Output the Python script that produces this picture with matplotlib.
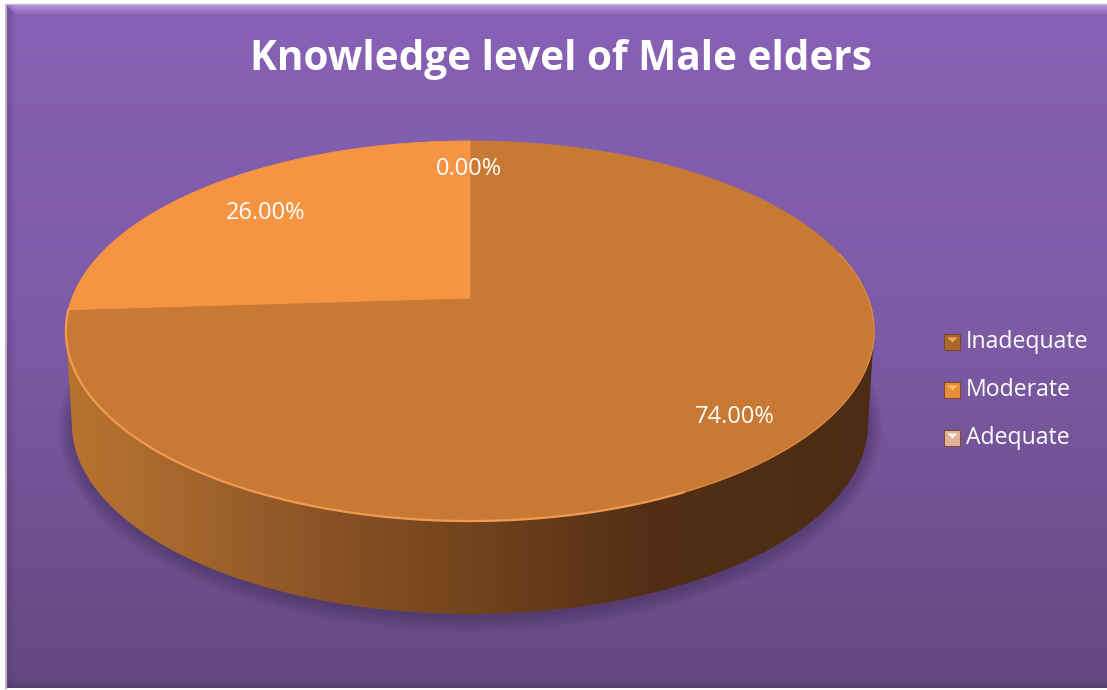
import matplotlib as mpl
mpl.use('Agg')
import matplotlib.pyplot as plt
import numpy as np
from matplotlib.colors import LinearSegmentedColormap
from matplotlib.patches import Polygon

categories = ['Inadequate', 'Moderate', 'Adequate']
values = [74.0, 26.0, 0.0]
value_labels = ['74.00%', '26.00%', '0.00%']
title = 'Knowledge level of Male elders'

plt.rcParams['font.family'] = ['Open Sans', 'DejaVu Sans']

fig = plt.figure(figsize=(11.07, 6.9), dpi=100)
ax = fig.add_axes([0, 0, 1, 1])
ax.set_xlim(0, 1107)
ax.set_ylim(690, 0)
ax.axis('off')

# background panel, pixel coordinates
L, T, R, B = 7, 5, 1107, 688
bg = LinearSegmentedColormap.from_list('bg', ['#8761b6', '#7c5aa4', '#65497f'])
ax.imshow(np.linspace(0, 1, 256).reshape(-1, 1), cmap=bg, extent=[L, R, B, T], aspect='auto', zorder=1)

# bevel on the panel edges
for i in range(10):
    a = 0.6 * (1 - i / 10)
    ax.fill([L + i, R, R, L + i], [T + i, T + i, T + i + 1, T + i + 1], color='#d9b4f7', alpha=a, lw=0, zorder=2)
for i in range(8):
    a = 0.35 * (1 - i / 8)
    ax.fill([L, R, R, L], [B - i - 1, B - i - 1, B - i, B - i], color='#3c2a58', alpha=a, lw=0, zorder=2)
    ax.fill([L + i, L + i + 1, L + i + 1, L + i], [T, T, B, B], color='#4a3570', alpha=a, lw=0, zorder=2)
ax.plot([L - 1, L - 1], [T, B], color='#b9b3c4', lw=1.5, zorder=2)
ax.plot([L, R], [T - 1, T - 1], color='#c9b6dc', lw=1, zorder=2)

# tilted disc: unit circle mapped through a perspective
x0, y0 = 470, 298
a, b, k = 398, 184.3, 0.1737


def rim(theta, drop=0.0, shrink=1.0):
    u = np.sin(theta)
    v = np.cos(theta)
    w = 1 + k * v
    return x0 + shrink * a * u / w, y0 - b * v / w + drop


# shadow under the pie
t = np.linspace(0, 2 * np.pi, 400)
sx, sy = rim(t, 93, 0.985)
cx, cy = sx.mean(), sy.mean()
for g in range(14, 0, -2):
    ax.fill(cx + (sx - cx) * (1 + g / 400), cy + (sy - cy) * (1 + g / 190) + 2,
            color='#2e1f45', alpha=0.05, lw=0, zorder=3)

# side wall
th = np.linspace(np.pi + 1.396, np.pi - 1.396, 300)
tx, ty = rim(th)
bx, by = rim(th[::-1], 93, 0.985)
side = Polygon(np.column_stack([np.r_[tx, bx], np.r_[ty, by]]), closed=True, fc='none', ec='none', zorder=4)
ax.add_patch(side)
side_cm = LinearSegmentedColormap.from_list('side', [(0, '#b8732f'), (0.1, '#ac6b2e'), (0.3, '#8d5527'),
                                                      (0.55, '#6c3f1b'), (0.72, '#522f15'), (1, '#4c2c14')])
im = ax.imshow(np.linspace(0, 1, 256).reshape(1, -1), cmap=side_cm, extent=[65, 873, 650, 300], aspect='auto', zorder=4)
im.set_clip_path(side)
ax.set_xlim(0, 1107)
ax.set_ylim(690, 0)

# top face, drawn clockwise from twelve o'clock
colors = ['#c87a35', '#f59543', '#f2c6ac']
start = 0.0
total = sum(values)
for val, col in zip(values, colors):
    if val > 0:
        ang = np.linspace(start, start + 2 * np.pi * val / total, 300)
        px, py = rim(ang)
        ax.fill(np.r_[x0, px], np.r_[y0, py], color=col, lw=0.6, ec=col, zorder=5)
    start += 2 * np.pi * val / total

# lit edge along the front of the disc
fr = np.linspace(np.pi * 0.85, np.pi * 1.48, 200)
fx, fy = rim(fr)
ax.plot(fx, fy, color='#f29a50', lw=1.6, zorder=6)
ed = np.linspace(np.pi * 0.42, np.pi * 0.85, 200)
ex, ey = rim(ed)
ax.plot(ex, ey, color='#d98a45', lw=0.9, zorder=6)

# value labels
label_pos = [(735, 417), (266, 213), (469, 169)]
for s, (lx, ly) in zip(value_labels, label_pos):
    ax.text(lx, ly, s, color='white', fontsize=17, ha='center', va='center', zorder=7)

ax.text(561, 60, title, color='white', fontsize=29.2, fontweight='bold', ha='center', va='center', zorder=7)

# legend
legend_y = [341, 389, 437]
legend_top = ['#f2a65a', '#ffc05e', '#fff0e6']
legend_col = ['#a9662c', '#e98c3c', '#e0b198']
wide_tri = [(-1, 0.6), (1, 0.6), (0, -0.4)]
for name, ly, c1, c2 in zip(categories, legend_y, legend_col, legend_top):
    ax.scatter([952], [ly + 1], marker='s', s=125, color=c1, edgecolors='#6f4420', linewidths=0.6, zorder=7)
    ax.scatter([952], [ly - 1], marker=wide_tri, s=55, color=c2, lw=0, zorder=8)
    ax.text(966, ly + 1.5, name, color='white', fontsize=16.6, ha='left', va='center', zorder=7)

fig.savefig('out.png', dpi=100, facecolor='white')
